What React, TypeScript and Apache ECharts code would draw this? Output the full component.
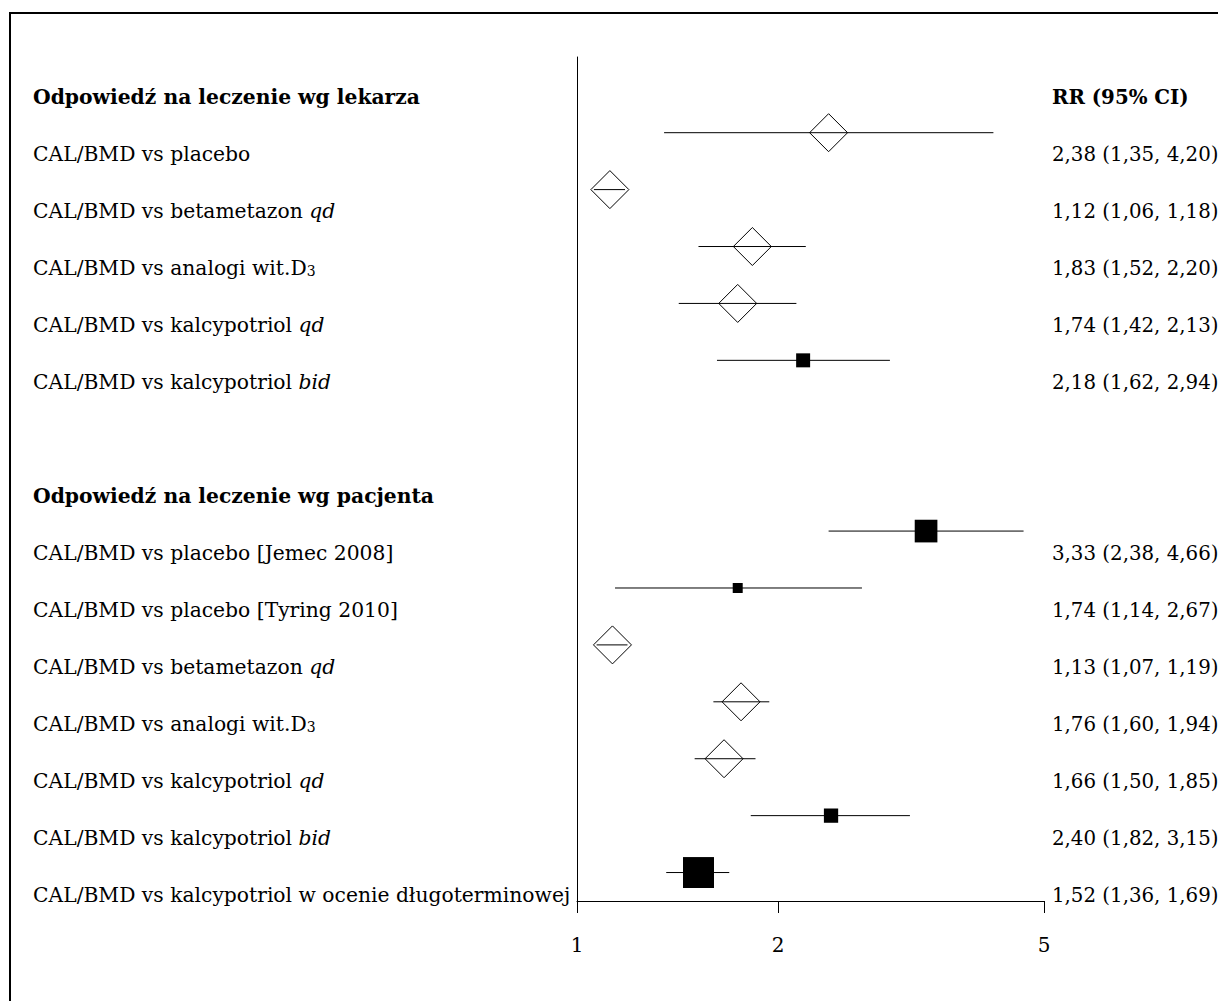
import React, { useEffect, useRef } from "react";
import * as echarts from "echarts";

const FONT = "'DejaVu Serif', serif";

// Section headers
const groupHeaders = ["Odpowiedź na leczenie wg lekarza", "Odpowiedź na leczenie wg pacjenta"];
const rrHeader = "RR (95% CI)";

// Physician-assessed response
const physicianLabels = [
  "CAL/BMD vs placebo",
  "CAL/BMD vs betametazon {i|qd}",
  "CAL/BMD vs analogi wit.D{s|3}",
  "CAL/BMD vs kalcypotriol {i|qd}",
  "CAL/BMD vs kalcypotriol {i|bid}",
];
const physicianRR = [2.38, 1.12, 1.83, 1.74, 2.18];
const physicianLo = [1.35, 1.06, 1.52, 1.42, 1.62];
const physicianHi = [4.2, 1.18, 2.2, 2.13, 2.94];
const physicianKind = ["diamond", "diamond", "diamond", "diamond", "square"];
const physicianWeight = [null, null, null, null, 19.6];

// Patient-assessed response
const patientLabels = [
  "CAL/BMD vs placebo [Jemec 2008]",
  "CAL/BMD vs placebo [Tyring 2010]",
  "CAL/BMD vs betametazon {i|qd}",
  "CAL/BMD vs analogi wit.D{s|3}",
  "CAL/BMD vs kalcypotriol {i|qd}",
  "CAL/BMD vs kalcypotriol {i|bid}",
  "CAL/BMD vs kalcypotriol w ocenie długoterminowej",
];
const patientRR = [3.33, 1.74, 1.13, 1.76, 1.66, 2.4, 1.52];
const patientLo = [2.38, 1.14, 1.07, 1.6, 1.5, 1.82, 1.36];
const patientHi = [4.66, 2.67, 1.19, 1.94, 1.85, 3.15, 1.69];
const patientKind = ["square", "square", "diamond", "diamond", "diamond", "square", "square"];
const patientWeight = [51.5, 10, null, null, null, 20.4, 96];

// X axis ticks (log scale)
const xTicks = [1, 2, 5];

const fmt = (v: number) => v.toFixed(2).replace(".", ",");

function buildRows() {
  const leftCats: string[] = [];
  const rightCats: string[] = [];
  const points: number[][] = [];
  const addGroup = (
    header: string,
    headerRight: string,
    labels: string[],
    rr: number[],
    lo: number[],
    hi: number[],
    kind: string[],
    weight: (number | null)[]
  ) => {
    leftCats.push(`{h|${header}}`);
    rightCats.push(headerRight ? `{h|${headerRight}}` : "");
    labels.forEach((lab, i) => {
      leftCats.push(lab);
      rightCats.push(`${fmt(rr[i])} (${fmt(lo[i])}, ${fmt(hi[i])})`);
      points.push([rr[i], leftCats.length - 1, lo[i], hi[i], kind[i] === "diamond" ? 1 : 0, weight[i] ?? 0]);
    });
  };
  addGroup(groupHeaders[0], rrHeader, physicianLabels, physicianRR, physicianLo, physicianHi, physicianKind, physicianWeight);
  leftCats.push("");
  rightCats.push("");
  addGroup(groupHeaders[1], "", patientLabels, patientRR, patientLo, patientHi, patientKind, patientWeight);
  return { leftCats, rightCats, points };
}

export default function App() {
  const ref = useRef<HTMLDivElement>(null);
  useEffect(() => {
    if (!ref.current) return;
    const chart = echarts.init(ref.current, null, { renderer: "svg" });
    const { leftCats, rightCats, points } = buildRows();
    const leftText = { fontFamily: FONT, fontSize: 20.3, color: "#000" };
    const rightText = { fontFamily: FONT, fontSize: 19.8, color: "#000" };
    const makeRich = (base: any) => ({
      h: { ...base, fontWeight: "bold" },
      i: { ...base, fontStyle: "italic" },
      s: { ...base, fontSize: 14, padding: [6, 0, 0, 0] },
    });
    chart.setOption({
      animation: false,
      backgroundColor: "#fff",
      graphic: [
        {
          type: "rect",
          shape: { x: 10, y: 13, width: 1400, height: 1200 },
          style: { fill: "none", stroke: "#000", lineWidth: 2 },
          silent: true,
        },
      ],
      grid: [
        { left: 577, top: 57, width: 467, height: 844, outerBoundsMode: "none", containLabel: false },
        { left: 577, top: 68.5, width: 467, height: 855, outerBoundsMode: "none", containLabel: false },
      ],
      xAxis: [
        {
          gridIndex: 0,
          type: "log",
          logBase: 10,
          min: 1,
          max: 5,
          axisLine: { show: true, onZero: false, lineStyle: { color: "#000", width: 1 } },
          axisTick: { show: true, customValues: xTicks, length: 12, lineStyle: { color: "#000", width: 1 } },
          axisLabel: {
            customValues: xTicks,
            margin: 34,
            fontFamily: FONT,
            fontSize: 20,
            color: "#000",
            formatter: (v: number) => String(v),
          },
          splitLine: { show: false },
        },
        { gridIndex: 1, type: "value", show: false },
      ],
      yAxis: [
        {
          gridIndex: 0,
          type: "value",
          inverse: true,
          min: -0.33,
          max: 14.5,
          axisLine: { show: true, onZero: false, lineStyle: { color: "#000", width: 1 } },
          axisTick: { show: false },
          axisLabel: { show: false },
          splitLine: { show: false },
        },
        {
          gridIndex: 1,
          type: "category",
          inverse: true,
          position: "left",
          data: leftCats,
          axisLine: { show: false },
          axisTick: { show: false },
          splitLine: { show: false },
          axisLabel: {
            ...leftText,
            interval: 0,
            align: "left",
            margin: 544,
            formatter: (v: string) => v,
            rich: makeRich(leftText),
          },
        },
        {
          gridIndex: 1,
          type: "category",
          inverse: true,
          position: "right",
          data: rightCats,
          axisLine: { show: false },
          axisTick: { show: false },
          splitLine: { show: false },
          axisLabel: {
            ...rightText,
            interval: 0,
            align: "left",
            margin: 8,
            formatter: (v: string) => v,
            rich: makeRich(rightText),
          },
        },
      ],
      series: [
        {
          type: "custom",
          xAxisIndex: 0,
          yAxisIndex: 0,
          clip: false,
          encode: { x: 0, y: 1 },
          data: points,
          renderItem: (params: any, api: any) => {
            const rr = api.value(0);
            const row = api.value(1);
            const lo = api.value(2);
            const hi = api.value(3);
            const kind = api.value(4);
            const w = api.value(5);
            const c = api.coord([rr, row]);
            const l = api.coord([lo, row]);
            const h = api.coord([hi, row]);
            const y = c[1];
            const children: any[] = [
              {
                type: "line",
                shape: { x1: l[0], y1: y, x2: h[0], y2: y },
                style: { stroke: "#000", lineWidth: 1 },
              },
            ];
            if (kind === 1) {
              const r = 19;
              children.push({
                type: "polygon",
                shape: {
                  points: [
                    [c[0] - r, y],
                    [c[0], y - r],
                    [c[0] + r, y],
                    [c[0], y + r],
                  ],
                },
                style: { fill: "none", stroke: "#000", lineWidth: 1 },
              });
            } else {
              const s = Math.sqrt(w) * 3.16;
              children.push({
                type: "rect",
                shape: { x: c[0] - s / 2, y: y - s / 2, width: s, height: s },
                style: { fill: "#000" },
              });
            }
            return { type: "group", children };
          },
        },
      ],
    });
    return () => chart.dispose();
  }, []);
  return (
    <div
      ref={ref}
      style={{ position: "fixed", left: 0, top: 0, width: 1218, height: 1001, background: "#fff" }}
    />
  );
}
